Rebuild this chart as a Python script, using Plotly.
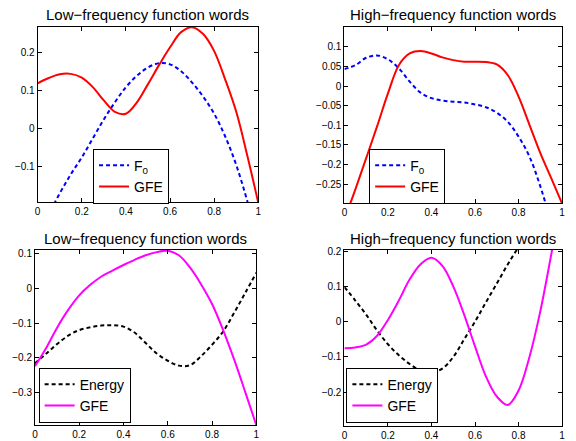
import plotly.graph_objects as go

# ---------------- data ----------------
x_grid = [0, 0.05, 0.1, 0.15, 0.2, 0.25, 0.3, 0.35, 0.4, 0.45, 0.5,
          0.55, 0.6, 0.65, 0.7, 0.75, 0.8, 0.85, 0.9, 0.95, 1.0]

# top-left: Low-frequency function words (F0 vs GFE)
tl_f0 = [-0.28, -0.225, -0.17, -0.12, -0.075, -0.025, 0.025, 0.07, 0.11, 0.14, 0.162,
         0.173, 0.17, 0.152, 0.122, 0.085, 0.04, -0.02, -0.095, -0.19, -0.30]
tl_gfe = [0.12, 0.134, 0.144, 0.145, 0.135, 0.11, 0.075, 0.045, 0.04, 0.07, 0.118,
          0.168, 0.215, 0.255, 0.268, 0.25, 0.205, 0.13, 0.045, -0.07, -0.195]

# top-right: High-frequency function words (F0 vs GFE)
tr_f0 = [0.043, 0.053, 0.072, 0.078, 0.068, 0.045, 0.011, -0.017, -0.031, -0.037, -0.04,
         -0.042, -0.047, -0.054, -0.068, -0.091, -0.129, -0.18, -0.256, -0.35, -0.45]
tr_gfe = [-0.34, -0.264, -0.184, -0.103, -0.019, 0.053, 0.083, 0.089, 0.083, 0.073, 0.066,
          0.062, 0.062, 0.061, 0.055, 0.028, -0.027, -0.099, -0.171, -0.235, -0.30]

# bottom-left: Low-frequency function words (Energy vs GFE)
bl_energy = [-0.215, -0.188, -0.16, -0.136, -0.12, -0.112, -0.107, -0.106, -0.11, -0.127, -0.157,
             -0.187, -0.208, -0.222, -0.221, -0.195, -0.162, -0.124, -0.07, -0.013, 0.045]
bl_gfe = [-0.224, -0.172, -0.113, -0.062, -0.02, 0.01, 0.034, 0.051, 0.067, 0.082, 0.095,
          0.104, 0.108, 0.095, 0.06, 0.012, -0.045, -0.12, -0.205, -0.298, -0.393]

# bottom-right: High-frequency function words (Energy vs GFE)
br_energy = [0.098, 0.06, 0.02, -0.025, -0.064, -0.095, -0.12, -0.138, -0.143, -0.133, -0.1,
             -0.05, 0.0, 0.055, 0.108, 0.162, 0.21, 0.245, 0.27, 0.29, 0.30]
br_gfe = [-0.075, -0.073, -0.065, -0.04, 0.005, 0.06, 0.12, 0.163, 0.181, 0.158, 0.1,
          0.02, -0.07, -0.155, -0.212, -0.236, -0.195, -0.1, 0.03, 0.19, 0.36]

titles = ["Low\u2212frequency function words", "High\u2212frequency function words",
          "Low\u2212frequency function words", "High\u2212frequency function words"]

x_ticks = [0, 0.2, 0.4, 0.6, 0.8, 1]
x_ticktext = ["0", "0.2", "0.4", "0.6", "0.8", "1"]
tl_yticks = [-0.1, 0, 0.1, 0.2]
tl_yticktext = ["\u22120.1", "0", "0.1", "0.2"]
tr_yticks = [-0.25, -0.2, -0.15, -0.1, -0.05, 0, 0.05, 0.1]
tr_yticktext = ["\u22120.25", "\u22120.2", "\u22120.15", "\u22120.1", "\u22120.05", "0", "0.05", "0.1"]
bl_yticks = [-0.3, -0.2, -0.1, 0, 0.1]
bl_yticktext = ["\u22120.3", "\u22120.2", "\u22120.1", "0", "0.1"]
br_yticks = [-0.2, -0.1, 0, 0.1, 0.2]
br_yticktext = ["\u22120.2", "\u22120.1", "0", "0.1", "0.2"]

tl_yrange = [-0.193, 0.269]
tr_yrange = [-0.298, 0.151]
bl_yrange = [-0.393, 0.11]
br_yrange = [-0.296, 0.203]

# ---------------- figure ----------------
W, H = 576, 441
FONT = "Liberation Sans, Arial, Helvetica, sans-serif"

fig = go.Figure()

dash_style = "4px,3px"

def add(xa, ya, y, name, color, dash, legend):
    fig.add_trace(go.Scatter(
        x=x_grid, y=y, mode="lines", name=name, xaxis=xa, yaxis=ya,
        line=dict(color=color, width=2, dash=dash, shape="spline", smoothing=1.0),
        legend=legend, showlegend=True))

add("x", "y", tl_f0, "F<sub>0</sub>", "#0000ff", dash_style, "legend")
add("x", "y", tl_gfe, "GFE", "#ff0000", "solid", "legend")
add("x2", "y2", tr_f0, "F<sub>0</sub>", "#0000ff", dash_style, "legend2")
add("x2", "y2", tr_gfe, "GFE", "#ff0000", "solid", "legend2")
add("x3", "y3", bl_energy, "Energy", "#000000", dash_style, "legend3")
add("x3", "y3", bl_gfe, "GFE", "#ff00ff", "solid", "legend3")
add("x4", "y4", br_energy, "Energy", "#000000", dash_style, "legend4")
add("x4", "y4", br_gfe, "GFE", "#ff00ff", "solid", "legend4")

# pixel boxes of the four axes: (left, right, top, bottom)
boxes = [(35, 258, 23, 200), (345, 565, 23, 200.7),
         (32.3, 256, 248.3, 425), (345, 565, 248.3, 426)]

def ax_common():
    return dict(showline=True, linecolor="black", linewidth=1, mirror="ticks",
                ticks="inside", ticklen=4, tickcolor="black", showgrid=False,
                zeroline=False, tickfont=dict(family=FONT, size=10, color="black"))

yinfo = [(tl_yrange, tl_yticks, tl_yticktext), (tr_yrange, tr_yticks, tr_yticktext),
         (bl_yrange, bl_yticks, bl_yticktext), (br_yrange, br_yticks, br_yticktext)]

layout = {}
for i, (l, r, t, b) in enumerate(boxes):
    sfx = "" if i == 0 else str(i + 1)
    xa = ax_common()
    xa.update(domain=[l / W, r / W], range=[0, 1], tickvals=x_ticks, ticktext=x_ticktext,
              anchor="y" + sfx)
    ya = ax_common()
    yr, yt, ytt = yinfo[i]
    ya.update(domain=[1 - b / H, 1 - t / H], range=yr, tickvals=yt, ticktext=ytt,
              anchor="x" + sfx)
    layout["xaxis" + sfx] = xa
    layout["yaxis" + sfx] = ya

fig.update_layout(**layout)

annotations = []
for i, (l, r, t, b) in enumerate(boxes):
    annotations.append(dict(text=titles[i], x=(l + r) / 2 / W, y=1 - (t - 12) / H,
                            xref="paper", yref="paper", xanchor="center", yanchor="middle",
                            showarrow=False, font=dict(family=FONT, size=15, color="black")))

# legend anchor points (left px, px, vertical anchor)
leg_pos = [(91, 146, "top"), (370, 146, "top"), (36, 422.5, "bottom"), (347, 422.5, "bottom")]
legends = {}
for i, (lx, ly, va) in enumerate(leg_pos):
    key = "legend" if i == 0 else "legend" + str(i + 1)
    legends[key] = dict(x=lx / W, y=1 - ly / H, xanchor="left", yanchor=va,
                        bgcolor="white", bordercolor="black", borderwidth=1,
                        font=dict(family=FONT, size=14, color="black"),
                        tracegroupgap=0, itemwidth=30)

fig.update_layout(width=W, height=H, margin=dict(l=0, r=0, t=0, b=0),
                  paper_bgcolor="white", plot_bgcolor="white",
                  annotations=annotations, **legends)

fig.write_html("out.html", config={"displayModeBar": False},
               post_script="document.body.style.margin='0';document.body.style.overflow='hidden';")
